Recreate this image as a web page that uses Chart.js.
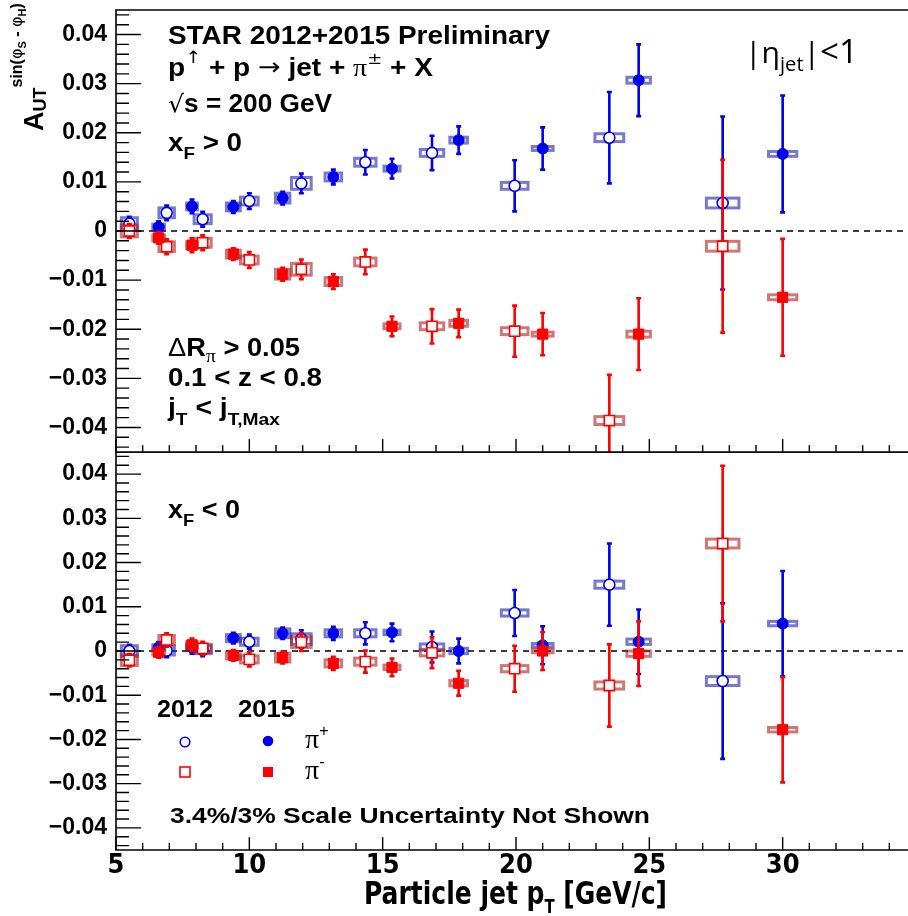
<!DOCTYPE html>
<html lang="en">
<head>
<meta charset="UTF-8">
<title>STAR A_UT sin(phiS - phiH) vs particle jet pT</title>
<script src="https://cdn.jsdelivr.net/npm/chart.js"></script>
<style>
  body { margin: 0; background: #fff; overflow: hidden; }
  #page { position: relative; width: 908px; height: 916px; }
  canvas { position: absolute; left: 0; }
  #topChart { top: 0; }
  #botChart { top: 452px; }
  #overlay { top: 0; pointer-events: none; }
</style>
</head>
<body>
<div id="page">
  <canvas id="topChart" width="908" height="453"></canvas>
  <canvas id="botChart" width="908" height="464"></canvas>
  <canvas id="overlay" width="908" height="916"></canvas>
</div>
<script>
// particle jet pT bin centres [GeV/c]
const pt2012 = [5.5, 6.9, 8.25, 10.0, 11.95, 14.35, 16.85, 19.95, 23.5, 27.75];
const pt2015 = [6.6, 7.85, 9.4, 11.25, 13.15, 15.35, 17.85, 21.0, 24.6, 30.0];

// xF > 0 (upper panel)
const pipFwd2012 = [0.0015, 0.0037, 0.0024, 0.0061, 0.0097, 0.0140, 0.0159, 0.0092, 0.0190, 0.0057];
const pipFwd2015 = [0.0008, 0.0050, 0.0049, 0.0067, 0.0110, 0.0127, 0.0185, 0.0168, 0.0307, 0.0157];
const pimFwd2012 = [0.0000, -0.0032, -0.0024, -0.0059, -0.0078, -0.0063, -0.0194, -0.0204, -0.0386, -0.0031];
const pimFwd2015 = [-0.0014, -0.0029, -0.0047, -0.0088, -0.0103, -0.0194, -0.0188, -0.0210, -0.0210, -0.0135];

// xF < 0 (lower panel)
const pipBwd2012 = [0.0000, 0.0001, 0.0003, 0.0021, 0.0027, 0.0040, 0.0009, 0.0086, 0.0150, -0.0068];
const pipBwd2015 = [0.0008, 0.0008, 0.0029, 0.0040, 0.0040, 0.0042, 0.0000, 0.0013, 0.0021, 0.0062];
const pimBwd2012 = [-0.0021, 0.0025, 0.0006, -0.0019, 0.0020, -0.0024, -0.0004, -0.0040, -0.0078, 0.0243];
const pimBwd2015 = [-0.0003, 0.0014, -0.0010, -0.0015, -0.0028, -0.0037, -0.0073, 0.0000, -0.0006, -0.0178];

// statistical errors
const stat2012 = [0.0014, 0.0015, 0.0015, 0.0016, 0.0020, 0.0025, 0.0035, 0.0052, 0.0093, 0.0176];
const stat2015 = [0.0012, 0.0014, 0.0012, 0.0013, 0.0015, 0.0020, 0.0028, 0.0043, 0.0073, 0.0119];

// systematic boxes: half-width in pT, half-height in A_UT
const sysPt2012 = [0.30, 0.29, 0.32, 0.33, 0.37, 0.40, 0.44, 0.50, 0.54, 0.61];
const sysPt2015 = [0.22, 0.20, 0.26, 0.27, 0.31, 0.30, 0.33, 0.39, 0.44, 0.53];
const sysA2012 = [0.0012, 0.0010, 0.0009, 0.0008, 0.0012, 0.0008, 0.0007, 0.0007, 0.0008, 0.0010];
const sysA2015 = [0.0006, 0.0007, 0.0008, 0.0010, 0.0008, 0.0005, 0.0006, 0.0004, 0.0006, 0.0005];

const xTicks = [5, 10, 15, 20, 25, 30];
const yTicks = [-0.04, -0.03, -0.02, -0.01, 0, 0.01, 0.02, 0.03, 0.04];
const xMin = 5, xMax = 34.7, yMin = -0.045, yMax = 0.045;

const BLUE = '#0000f0', RED = '#ff0000';
const BLUE_BOX = 'rgba(30,30,170,0.6)', RED_BOX = 'rgba(170,30,30,0.6)';
const SANS = '"Liberation Sans", Arial, sans-serif';
const NARROW = '"Liberation Sans Narrow", "DejaVu Sans Condensed", "Liberation Sans", sans-serif';

function series(label, xs, ys, errs, sx, sy, color, box, style, open, order) {
  return {
    label,
    data: xs.map((x, i) => ({ x: x, y: ys[i] })),
    errY: errs, sysX: sx, sysY: sy, boxColor: box,
    pointStyle: style,
    pointRadius: style === 'rect' ? 7.2 : 5.5,
    pointHoverRadius: style === 'rect' ? 7.2 : 5.5,
    pointBackgroundColor: open ? '#fff' : color,
    pointBorderColor: color,
    pointBorderWidth: open ? 1.6 : 1,
    borderColor: color,
    showLine: false,
    order
  };
}

// error bars and systematic boxes, drawn just before each dataset's markers
const errorBars = {
  id: 'errorBars',
  beforeDatasetDraw(chart, args) {
    const ds = chart.data.datasets[args.index];
    const xs = chart.scales.x, ys = chart.scales.y;
    const ctx = chart.ctx, a = chart.chartArea;
    ctx.save();
    ctx.beginPath();
    ctx.rect(a.left, a.top, a.right - a.left, a.bottom - a.top);
    ctx.clip();
    ds.data.forEach((p, i) => {
      const px = xs.getPixelForValue(p.x);
      const x0 = xs.getPixelForValue(p.x - ds.sysX[i]);
      const x1 = xs.getPixelForValue(p.x + ds.sysX[i]);
      const y0 = ys.getPixelForValue(p.y + ds.sysY[i]);
      const y1 = ys.getPixelForValue(p.y - ds.sysY[i]);
      ctx.strokeStyle = ds.boxColor;
      ctx.lineWidth = 3;
      ctx.strokeRect(x0, y0, x1 - x0, y1 - y0);

      const e0 = ys.getPixelForValue(p.y + ds.errY[i]);
      const e1 = ys.getPixelForValue(p.y - ds.errY[i]);
      ctx.strokeStyle = ds.borderColor;
      ctx.lineWidth = 2.6;
      ctx.beginPath();
      ctx.moveTo(px, e0); ctx.lineTo(px, e1);
      ctx.moveTo(px - 2.5, e0); ctx.lineTo(px + 2.5, e0);
      ctx.moveTo(px - 2.5, e1); ctx.lineTo(px + 2.5, e1);
      ctx.stroke();
    });
    ctx.restore();
  }
};

// ROOT-like frame with inward ticks and dashed zero line
const frame = {
  id: 'frame',
  beforeDatasetsDraw(chart) {
    const { ctx, chartArea: a, scales: { y } } = chart;
    const y0 = y.getPixelForValue(0);
    ctx.save();
    ctx.strokeStyle = '#000';
    ctx.lineWidth = 1.3;
    ctx.setLineDash([6, 5]);
    ctx.beginPath();
    ctx.moveTo(a.left, y0); ctx.lineTo(a.right, y0);
    ctx.stroke();
    ctx.restore();
  },
  afterDraw(chart) {
    const { ctx, chartArea: a, scales: { x, y } } = chart;
    ctx.save();
    ctx.strokeStyle = '#000';
    ctx.lineWidth = 1.6;
    ctx.beginPath();
    ctx.moveTo(a.right, a.top); ctx.lineTo(a.left, a.top);
    ctx.lineTo(a.left, a.bottom); ctx.lineTo(a.right, a.bottom);
    ctx.stroke();
    ctx.lineWidth = 1.4;
    ctx.beginPath();
    for (let k = -22; k <= 22; k++) {
      const p = y.getPixelForValue(k * 0.002);
      const len = k % 5 === 0 ? 25 : 13;
      ctx.moveTo(a.left, p); ctx.lineTo(a.left + len, p);
    }
    for (let v = 5; v <= 35; v++) {
      const p = x.getPixelForValue(v);
      if (p > a.right) break;
      const len = v % 5 === 0 ? 13 : 7;
      ctx.moveTo(p, a.bottom); ctx.lineTo(p, a.bottom - len);
    }
    ctx.stroke();
    ctx.restore();
  }
};

function yLabel(v) {
  if (Math.abs(v) < 1e-9) return '0';
  return (v < 0 ? '\u2212' : '') + Math.abs(v).toFixed(2);
}

function makeChart(id, datasets, showX, pad) {
  return new Chart(document.getElementById(id), {
    type: 'scatter',
    data: { datasets },
    plugins: [frame, errorBars],
    options: {
      responsive: false,
      animation: false,
      layout: { padding: pad, autoPadding: false },
      plugins: { legend: { display: false }, tooltip: { enabled: false } },
      scales: {
        x: {
          type: 'linear', min: xMin, max: xMax, display: showX,
          grid: { display: false, drawTicks: false },
          border: { display: false },
          ticks: {
            color: '#000', padding: 2,
            font: { family: NARROW, size: 27, weight: 'bold', lineHeight: 1 }
          },
          afterBuildTicks: s => { s.ticks = xTicks.map(v => ({ value: v })); },
          afterFit: s => { if (showX) s.height = 66; s.paddingLeft = 0; s.paddingRight = 0; }
        },
        y: {
          type: 'linear', min: yMin, max: yMax,
          grid: { display: false, drawTicks: false },
          border: { display: false },
          ticks: {
            color: '#000', padding: 9,
            font: { family: SANS, size: 23, weight: 'bold' },
            callback: v => yLabel(v)
          },
          afterBuildTicks: s => { s.ticks = yTicks.map(v => ({ value: v })); },
          afterFit: s => { s.width = 116; s.paddingTop = 0; s.paddingBottom = 0; }
        }
      }
    }
  });
}

makeChart('topChart', [
  series('pi+ 2012', pt2012, pipFwd2012, stat2012, sysPt2012, sysA2012, BLUE, BLUE_BOX, 'circle', true, 4),
  series('pi+ 2015', pt2015, pipFwd2015, stat2015, sysPt2015, sysA2015, BLUE, BLUE_BOX, 'circle', false, 3),
  series('pi- 2012', pt2012, pimFwd2012, stat2012, sysPt2012, sysA2012, RED, RED_BOX, 'rect', true, 2),
  series('pi- 2015', pt2015, pimFwd2015, stat2015, sysPt2015, sysA2015, RED, RED_BOX, 'rect', false, 1)
], false, { top: 10, bottom: 1, left: 0, right: 0 });

makeChart('botChart', [
  series('pi+ 2012', pt2012, pipBwd2012, stat2012, sysPt2012, sysA2012, BLUE, BLUE_BOX, 'circle', true, 4),
  series('pi+ 2015', pt2015, pipBwd2015, stat2015, sysPt2015, sysA2015, BLUE, BLUE_BOX, 'circle', false, 3),
  series('pi- 2012', pt2012, pimBwd2012, stat2012, sysPt2012, sysA2012, RED, RED_BOX, 'rect', true, 2),
  series('pi- 2015', pt2015, pimBwd2015, stat2015, sysPt2015, sysA2015, RED, RED_BOX, 'rect', false, 1)
], true, { top: 0, bottom: 0, left: 0, right: 0 });

// ---- text overlay ----
const oc = document.getElementById('overlay').getContext('2d');
oc.fillStyle = '#000';

function runs(x, y, parts, width) {
  let total = 0;
  parts.forEach(p => { oc.font = p.f; p.w = oc.measureText(p.t).width; total += p.w; });
  const k = width ? width / total : 1;
  oc.save();
  oc.translate(x, y);
  oc.scale(k, 1);
  let cx = 0;
  parts.forEach(p => { oc.font = p.f; oc.fillText(p.t, cx, p.dy || 0); cx += p.w; });
  oc.restore();
}

const B = 'bold 25px ' + SANS;
const BS = 'bold 17px ' + SANS;
const SYM = '25px "Liberation Serif", serif';
const THIN = '"DejaVu Sans", sans-serif';

runs(168, 44, [{ t: 'STAR 2012+2015 Preliminary', f: B }], 382);
runs(168, 76, [
  { t: 'p', f: B }, { t: '\u2191', f: '17px ' + THIN, dy: -13 }, { t: ' + p ', f: B },
  { t: '\u2192', f: '24px ' + THIN, dy: -1 }, { t: ' jet + ', f: B },
  { t: '\u03c0', f: SYM }, { t: '\u00b1', f: '16px ' + THIN, dy: -12 }, { t: ' + X', f: B }
], 265);
runs(168, 112, [{ t: '\u221a', f: '24px ' + THIN }, { t: 's = 200 GeV', f: B }], 164);
runs(168, 151, [{ t: 'x', f: B }, { t: 'F', f: BS, dy: 8 }, { t: ' > 0', f: B }], 74);

runs(168, 356, [
  { t: '\u0394', f: '25px ' + SANS }, { t: 'R', f: B }, { t: '\u03c0', f: '18px "Liberation Serif", serif', dy: 6 },
  { t: ' > 0.05', f: B }
], 132);
runs(168, 386, [{ t: '0.1 < z < 0.8', f: B }], 154);
runs(168, 416, [
  { t: 'j', f: B }, { t: 'T', f: BS, dy: 9 }, { t: ' < j', f: B }, { t: 'T,Max', f: BS, dy: 9 }
], 112);

runs(745, 63, [
  { t: '|\u03b7', f: '30px "Open Sans", sans-serif' },
  { t: 'jet', f: '20px "Open Sans", sans-serif', dy: 8 },
  { t: '|', f: '30px "Open Sans", sans-serif' },
  { t: '<1', f: '33px "Open Sans", sans-serif' }
], 113);

runs(168, 518, [{ t: 'x', f: B }, { t: 'F', f: BS, dy: 8 }, { t: ' < 0', f: B }], 72);

// legend
runs(157, 717, [{ t: '2012', f: 'bold 23px ' + SANS }], 56);
runs(238, 717, [{ t: '2015', f: 'bold 23px ' + SANS }], 57);
oc.lineWidth = 1.6;
oc.strokeStyle = BLUE; oc.fillStyle = '#fff';
oc.beginPath(); oc.arc(185, 742, 4.8, 0, 2 * Math.PI); oc.fill(); oc.stroke();
oc.fillStyle = BLUE;
oc.beginPath(); oc.arc(268, 741, 5.3, 0, 2 * Math.PI); oc.fill();
oc.strokeStyle = RED;
oc.strokeRect(180, 767, 10, 10);
oc.fillStyle = RED;
oc.fillRect(263, 767, 10, 10);
oc.fillStyle = '#000';
runs(305, 748, [{ t: '\u03c0', f: '28px "Liberation Serif", serif' }, { t: '+', f: '16px ' + SANS, dy: -12 }]);
runs(305, 779, [{ t: '\u03c0', f: '28px "Liberation Serif", serif' }, { t: '-', f: '17px ' + SANS, dy: -12 }]);

runs(170, 823, [{ t: '3.4%/3% Scale Uncertainty Not Shown', f: 'bold 22px ' + SANS }], 480);

// x axis title
runs(364, 904, [
  { t: 'Particle jet p', f: 'bold 32px ' + NARROW },
  { t: 'T', f: 'bold 19px ' + NARROW, dy: 9 },
  { t: ' [GeV/c]', f: 'bold 32px ' + NARROW }
], 303);

// y axis title, rotated
oc.save();
oc.translate(43, 131);
oc.rotate(-Math.PI / 2);
runs(0, 0, [
  { t: 'A', f: 'bold 27px ' + SANS },
  { t: 'UT', f: 'bold 18px ' + SANS, dy: 3 },
  { t: 'sin(', f: 'bold 16px ' + SANS, dy: -21 },
  { t: '\u03c6', f: '16px ' + THIN, dy: -21 },
  { t: 'S', f: 'bold 11px ' + SANS, dy: -17 },
  { t: ' - ', f: 'bold 16px ' + SANS, dy: -21 },
  { t: '\u03c6', f: '16px ' + THIN, dy: -21 },
  { t: 'H', f: 'bold 11px ' + SANS, dy: -17 },
  { t: ')', f: 'bold 16px ' + SANS, dy: -21 }
]);
oc.restore();
</script>
</body>
</html>
